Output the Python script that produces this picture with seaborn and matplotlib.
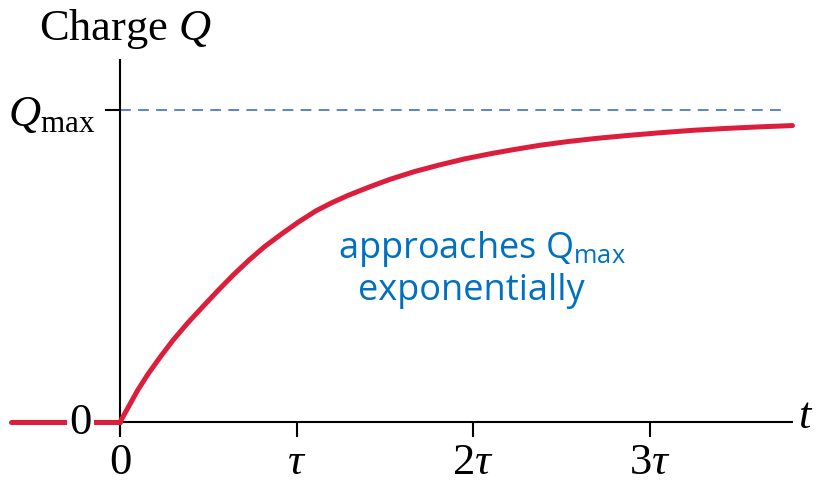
import numpy as np
import pandas as pd
import matplotlib
matplotlib.use("Agg")
import matplotlib.pyplot as plt
import seaborn as sns

# charge Q (in units of Qmax), t in units of tau
t_before = [-0.62, 0.0]
q_before = [0.0, 0.0]
t_vals = [0.0, 0.05, 0.10, 0.16, 0.23, 0.30, 0.38, 0.47, 0.55, 0.64, 0.73, 0.82,
          0.92, 1.01, 1.11, 1.20, 1.29, 1.41, 1.53, 1.67, 1.81, 1.95, 2.10, 2.24,
          2.38, 2.54, 2.70, 2.87, 3.06, 3.25, 3.44, 3.63, 3.81]
q_vals = [0.0, 0.051, 0.102, 0.155, 0.210, 0.262, 0.315, 0.370, 0.418, 0.470, 0.518, 0.562,
          0.604, 0.640, 0.676, 0.702, 0.725, 0.752, 0.777, 0.802, 0.823, 0.842, 0.859, 0.873,
          0.886, 0.898, 0.908, 0.917, 0.926, 0.934, 0.940, 0.945, 0.949]
x_ticks = [0, 1, 2, 3]
x_labels = ["0", r"$\tau$", r"$2\tau$", r"$3\tau$"]
y_ticks = [1]
y_labels = [r"$Q_{\rm max}$"]

sns.set_style("white")
plt.rcParams["font.family"] = ["Liberation Serif", "DejaVu Serif"]
plt.rcParams["text.color"] = "black"
plt.rcParams["mathtext.fontset"] = "custom"
plt.rcParams["mathtext.rm"] = "Liberation Serif"
plt.rcParams["mathtext.it"] = "Liberation Serif:italic"
plt.rcParams["mathtext.sf"] = "Open Sans"

red = "#dc1e3c"
blue = "#0070c0"

df = pd.DataFrame({"t": t_vals, "Q": q_vals})
df0 = pd.DataFrame({"t": t_before, "Q": q_before})

fig = plt.figure(figsize=(8.17, 4.85), dpi=100)
ax = fig.add_axes([0, 0, 1, 1])

sns.lineplot(data=df0, x="t", y="Q", color=red, lw=3.6, ax=ax, zorder=3)
sns.lineplot(data=df, x="t", y="Q", color=red, lw=3.6, ax=ax, zorder=3)
ax.axhline(1.0, xmin=0.147, xmax=0.958, color="#4a7fc1", lw=1.3, ls=(0, (6, 4)))

ax.set_xlim(-0.68, 3.949)
ax.set_ylim(-0.198, 1.354)

for s in ["top", "right"]:
    ax.spines[s].set_visible(False)
for s in ["left", "bottom"]:
    ax.spines[s].set_position(("data", 0))
    ax.spines[s].set_color("black")
    ax.spines[s].set_linewidth(1.5)
ax.spines["left"].set_bounds(-0.03, 1.16)
ax.spines["bottom"].set_bounds(0, 3.81)

ax.set_xticks(x_ticks, x_labels)
ax.set_yticks(y_ticks, y_labels)
ax.tick_params(axis="both", direction="out", length=11, width=1.5, color="black",
               labelsize=32, labelcolor="black", bottom=True, left=True)
ax.tick_params(axis="x", pad=3)
ax.tick_params(axis="y", pad=7)
ax.set_xlabel("")
ax.set_ylabel("")

# the "0" on the charge axis sits over the red line
ax.text(-0.16, 0.0, "0", ha="right", va="center", fontsize=32, zorder=5,
        bbox=dict(facecolor="white", edgecolor="none", pad=2))

ax.text(0.03, 1.26, "Charge $Q$", ha="center", va="center", fontsize=32)
ax.text(3.84, 0.02, "$t$", ha="left", va="center", fontsize=32)

ax.text(2.05, 0.528, r"approaches Q$_{\mathsf{max}}$", ha="center", va="baseline",
        fontsize=26, color=blue, family="Open Sans")
ax.text(1.99, 0.394, "exponentially", ha="center", va="baseline",
        fontsize=26, color=blue, family="Open Sans")

fig.savefig("out.png", dpi=100, facecolor="white")
